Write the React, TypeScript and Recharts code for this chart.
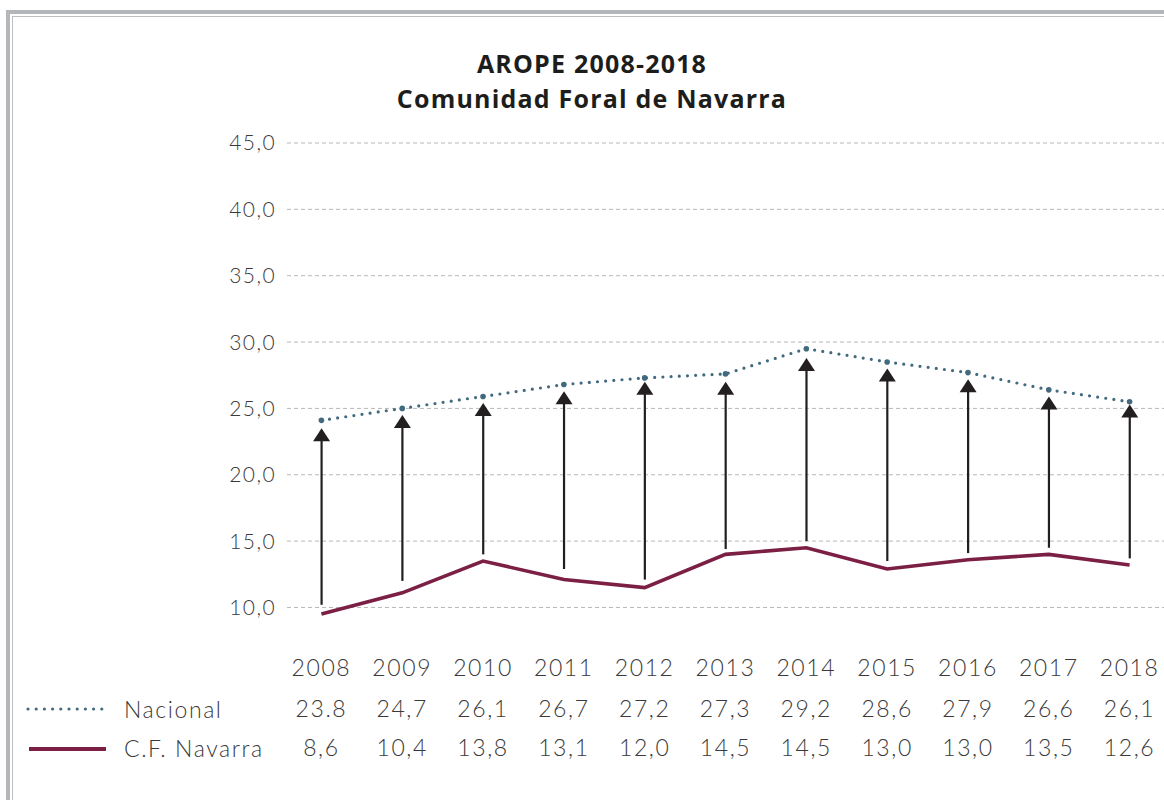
import { ComposedChart, Line, Bar, XAxis, YAxis, CartesianGrid } from 'recharts'

const years = ['2008', '2009', '2010', '2011', '2012', '2013', '2014', '2015', '2016', '2017', '2018']

// plotted line values
const nacional = [24.1, 25.0, 25.9, 26.8, 27.3, 27.6, 29.5, 28.5, 27.7, 26.4, 25.5]
const navarra = [9.5, 11.1, 13.5, 12.1, 11.5, 14.0, 14.5, 12.9, 13.6, 14.0, 13.2]

// arrows between both series
const arrowFrom = [10.2, 12.0, 14.0, 12.9, 12.1, 14.4, 15.0, 13.5, 14.1, 14.5, 13.7]
const arrowTo = [23.5, 24.5, 25.4, 26.3, 27.0, 27.0, 28.8, 28.0, 27.2, 25.9, 25.3]

// table below the chart
const nacionalLabels = ['23.8', '24,7', '26,1', '26,7', '27,2', '27,3', '29,2', '28,6', '27,9', '26,6', '26,1']
const navarraLabels = ['8,6', '10,4', '13,8', '13,1', '12,0', '14,5', '14,5', '13,0', '13,0', '13,5', '12,6']

const yTicks = [10, 15, 20, 25, 30, 35, 40, 45]

const data = years.map((year, i) => ({
  year,
  nacional: nacional[i],
  navarra: navarra[i],
  arrow: [arrowFrom[i], arrowTo[i]],
}))

const FONT = 'Lato, "Open Sans", sans-serif'
const TEXT = '#3a3a3a'
const BLUE = '#41697f'
const MAROON = '#7c1f44'

const labelStyle = { fontFamily: FONT, fontSize: 23, fontWeight: 300, fill: TEXT, letterSpacing: 1.6 }

const Arrow = (props: any) => {
  const { x, y, width, height } = props
  const cx = x + width / 2
  const top = Math.min(y, y + height)
  const bottom = Math.max(y, y + height)
  const headH = 13
  const headW = 17
  return (
    <g>
      <line x1={cx} y1={bottom} x2={cx} y2={top + headH - 1} stroke="#231f20" strokeWidth={2.2} />
      <polygon
        points={`${cx},${top} ${cx - headW / 2},${top + headH} ${cx + headW / 2},${top + headH}`}
        fill="#231f20"
      />
    </g>
  )
}

const TableTick = (props: any) => {
  const { x, y, index } = props
  return (
    <g>
      <text x={x} y={y + 33} textAnchor="middle" dominantBaseline="central" style={labelStyle}>
        {years[index]}
      </text>
      <text x={x} y={y + 74} textAnchor="middle" dominantBaseline="central" style={labelStyle}>
        {nacionalLabels[index]}
      </text>
      <text x={x} y={y + 113} textAnchor="middle" dominantBaseline="central" style={labelStyle}>
        {navarraLabels[index]}
      </text>
    </g>
  )
}

const gridLine = (p: any) => {
  // no line on the lower edge of the plot, only on the ticks
  if (p.y != null && p.height != null && Math.abs(p.y1 - (p.y + p.height)) < 1) return <g key={p.key} />
  return (
    <line
      key={p.key}
      x1={p.x1 + 6}
      y1={p.y1}
      x2={p.x2}
      y2={p.y2}
      stroke="#b7b7b7"
      strokeWidth={1}
      strokeDasharray="4 3"
    />
  )
}

const App = () => {
  return (
    <div
      style={{
        position: 'fixed',
        left: 0,
        top: 0,
        width: 1164,
        height: 800,
        overflow: 'hidden',
        background: '#fff',
      }}
    >
      {/* frame */}
      <div
        style={{
          position: 'absolute',
          left: 6,
          top: 10,
          width: 1200,
          height: 900,
          borderLeft: '4px solid #b3b7b9',
          borderTop: '4px solid #b3b7b9',
        }}
      />
      <div
        style={{
          position: 'absolute',
          left: 12,
          top: 16,
          width: 1200,
          height: 900,
          borderLeft: '1px solid #bcc0c2',
          borderTop: '1px solid #bcc0c2',
        }}
      />

      <div
        style={{
          position: 'absolute',
          left: 0,
          top: 46,
          width: 1184,
          textAlign: 'center',
          fontFamily: '"Open Sans", Lato, sans-serif',
          fontWeight: 700,
          fontSize: 25,
          letterSpacing: 1.2,
          lineHeight: '35px',
          color: '#1d1d1b',
        }}
      >
        AROPE 2008-2018
        <br />
        Comunidad Foral de Navarra
      </div>

      <div style={{ position: 'absolute', left: 0, top: 0 }}>
        <ComposedChart width={1170} height={800} data={data} margin={{ top: 143, right: 0, bottom: 0, left: 0 }}>
          <CartesianGrid vertical={false} horizontal={gridLine} />
          <XAxis
            dataKey="year"
            axisLine={false}
            tickLine={false}
            tickSize={0}
            tickMargin={0}
            height={166}
            interval={0}
            tick={<TableTick />}
          />
          <YAxis
            type="number"
            domain={[8, 45]}
            ticks={yTicks}
            width={281}
            axisLine={false}
            tickLine={false}
            tickSize={0}
            tickMargin={5}
            tickFormatter={(v: number) => v.toFixed(1).replace('.', ',')}
            tick={{ fontFamily: FONT, fontSize: 21, fontWeight: 300, fill: TEXT, letterSpacing: 1.4 }}
          />
          <Bar dataKey="arrow" shape={<Arrow />} isAnimationActive={false} />
          <Line
            dataKey="nacional"
            stroke={BLUE}
            strokeWidth={3.2}
            strokeDasharray="0 8.2"
            strokeLinecap="round"
            dot={{ r: 2.8, fill: BLUE, stroke: 'none' }}
            isAnimationActive={false}
          />
          <Line
            dataKey="navarra"
            stroke={MAROON}
            strokeWidth={3.6}
            dot={false}
            isAnimationActive={false}
          />
        </ComposedChart>
      </div>

      {/* legend rows of the table */}
      <svg style={{ position: 'absolute', left: 0, top: 0 }} width={280} height={800}>
        <line x1={28} y1={709} x2={107} y2={709} stroke={BLUE} strokeWidth={3.2} strokeDasharray="0 8.2" strokeLinecap="round" />
        <line x1={29} y1={749} x2={106} y2={749} stroke={MAROON} strokeWidth={4} />
        <text x={124} y={709} dominantBaseline="central" style={labelStyle}>
          Nacional
        </text>
        <text x={124} y={748} dominantBaseline="central" style={labelStyle}>
          C.F. Navarra
        </text>
      </svg>
    </div>
  )
}

export default App
